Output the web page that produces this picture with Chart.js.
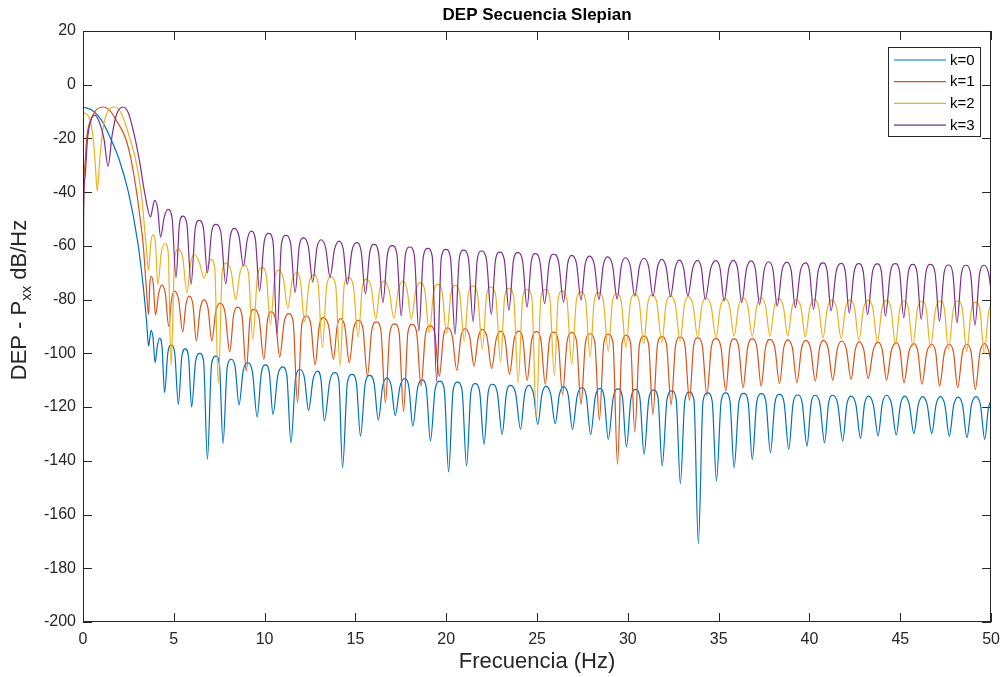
<!DOCTYPE html>
<html><head><meta charset="utf-8">
<script src="https://cdn.jsdelivr.net/npm/chart.js@4.4.1/dist/chart.umd.min.js"></script>
<style>html,body{margin:0;padding:0;background:#fff;}#wrap{width:1008px;height:677px;}</style>
</head><body><div id="wrap"><canvas id="c" width="1008" height="677"></canvas></div>
<script>
const chartTitle = 'DEP Secuencia Slepian';
const xTitle = 'Frecuencia (Hz)';
const seriesLabels = ['k=0', 'k=1', 'k=2', 'k=3'];
const seriesColors = ['#0072BD', '#D95319', '#EDB120', '#7E2F8E'];
const xTicks = [0, 5, 10, 15, 20, 25, 30, 35, 40, 45, 50];
const yTicks = [20, 0, -20, -40, -60, -80, -100, -120, -140, -160, -180, -200];

// [frequency Hz, PSD dB/Hz]
const k0Points = [[0,-8.3],[0.5,-9.5],[1,-13],[1.5,-19.7],[2,-28],[2.5,-40],[3,-58],[3.3,-74],[3.5,-88],
[3.61,-97.3],[3.68,-94.4],[3.75,-91.4],[3.86,-94.4],[3.97,-103.5],[4.09,-97.4],[4.21,-94.4],[4.35,-97.4],
[4.49,-114.6],[4.67,-99.9],[4.85,-96.9],[5.05,-99.9],[5.25,-119],[5.44,-101.3],[5.63,-98.3],[5.81,-101.3],
[5.98,-120],[6.2,-103],[6.43,-100],[6.64,-103],[6.85,-139.5],[7.08,-104],[7.31,-101],[7.51,-104],
[7.71,-133.6],[7.94,-105.2],[8.17,-102.2],[8.38,-105.2],[8.59,-119.2],[8.82,-106.5],[9.04,-103.5],[9.32,-106.5],
[9.59,-123.7],[9.82,-107.3],[10.05,-104.3],[10.26,-107.3],[10.46,-122.7],[10.73,-108],[10.99,-105],[11.22,-108],
[11.45,-133.3],[11.71,-109],[11.96,-106],[12.19,-109],[12.42,-121.2],[12.67,-109.6],[12.91,-106.6],[13.1,-109.6],
[13.29,-125.2],[13.59,-110.2],[13.88,-107.2],[14.09,-110.2],[14.29,-142.6],[14.56,-110.8],[14.82,-107.8],[15.05,-110.8],
[15.28,-130.8],[15.54,-111.2],[15.79,-108.2],[16.03,-111.2],[16.26,-124.9],[16.5,-112.1],[16.74,-109.1],[16.97,-112.1],
[17.19,-123.1],[17.45,-112.4],[17.71,-109.4],[17.94,-112.4],[18.16,-127.1],[18.42,-112.9],[18.67,-109.9],[18.9,-112.9],
[19.13,-132.6],[19.39,-113.3],[19.65,-110.3],[19.89,-113.3],[20.13,-144.1],[20.38,-113.7],[20.62,-110.7],[20.87,-113.7],
[21.12,-142],[21.36,-114.3],[21.59,-111.3],[21.84,-114.3],[22.08,-133.9],[22.31,-114.5],[22.54,-111.5],[22.81,-114.5],
[23.08,-130.2],[23.31,-114.9],[23.54,-111.9],[23.82,-114.9],[24.09,-128.3],[24.32,-114.9],[24.55,-111.9],[24.8,-114.9],
[25.04,-126.4],[25.27,-115.2],[25.49,-112.2],[25.75,-115.2],[26,-126.2],[26.23,-115.4],[26.46,-112.4],[26.71,-115.4],
[26.95,-128.3],[27.21,-115.8],[27.46,-112.8],[27.71,-115.8],[27.95,-130.2],[28.21,-116],[28.46,-113],[28.69,-116],
[28.92,-132],[29.2,-116.2],[29.47,-113.2],[29.7,-116.2],[29.92,-134.8],[30.18,-116.4],[30.43,-113.4],[30.66,-116.4],
[30.89,-137.6],[31.16,-116.7],[31.43,-113.7],[31.66,-116.7],[31.89,-141.9],[32.16,-117],[32.42,-114],[32.66,-117],
[32.89,-148.5],[33.14,-117.4],[33.39,-114.4],[33.64,-117.4],[33.88,-170.9],[34.14,-117.7],[34.39,-114.7],[34.64,-117.7],
[34.88,-147.5],[35.14,-117.7],[35.39,-114.7],[35.62,-117.7],[35.85,-142.6],[36.12,-117.9],[36.39,-114.9],[36.62,-117.9],
[36.85,-139.5],[37.1,-118],[37.36,-115],[37.6,-118],[37.85,-137],[38.1,-118.3],[38.35,-115.3],[38.6,-118.3],
[38.86,-135.7],[39.1,-118.5],[39.35,-115.5],[39.6,-118.5],[39.86,-134.5],[40.09,-118.6],[40.32,-115.6],[40.57,-118.6],
[40.83,-133.3],[41.05,-118.6],[41.28,-115.6],[41.55,-118.6],[41.83,-132.6],[42.06,-118.9],[42.29,-115.9],[42.55,-118.9],
[42.81,-131.6],[43.03,-118.9],[43.25,-115.9],[43.51,-118.9],[43.78,-130.7],[44.01,-118.6],[44.24,-115.6],[44.51,-118.6],
[44.78,-130.4],[45.01,-118.9],[45.24,-115.9],[45.49,-118.9],[45.75,-129.9],[45.99,-119.1],[46.24,-116.1],[46.48,-119.1],
[46.73,-129.9],[46.97,-119.1],[47.21,-116.1],[47.45,-119.1],[47.7,-130.8],[47.94,-119.3],[48.19,-116.3],[48.43,-119.3],
[48.67,-131.4],[48.92,-119.1],[49.18,-116.1],[49.41,-119.1],[49.65,-132],[49.85,-120.5],[50,-117.5]];

const k1Points = [[0,-200],[0.03,-45],[0.1,-30],[0.2,-20],[0.4,-13.5],[0.7,-9.6],[1.11,-8.3],[1.5,-9.8],[1.9,-14],[2.35,-20],[2.65,-28],[2.95,-40],[3.15,-50],[3.32,-60],[3.48,-75],
[3.61,-85.5],[3.68,-74.2],[3.75,-71.2],[3.87,-74.2],[3.99,-85.7],[4.17,-77.6],[4.34,-74.6],[4.53,-77.6],
[4.72,-90],[4.88,-79.8],[5.03,-76.8],[5.26,-79.8],[5.49,-92.1],[5.67,-81.7],[5.85,-78.7],[6.05,-81.7],
[6.24,-95.4],[6.46,-83.1],[6.67,-80.1],[6.88,-83.1],[7.09,-95.4],[7.31,-84.4],[7.53,-81.4],[7.81,-84.4],
[8.08,-99.5],[8.29,-85.8],[8.5,-82.8],[8.75,-85.8],[8.99,-106.6],[9.2,-86.6],[9.41,-83.6],[9.69,-86.6],
[9.96,-102.2],[10.16,-87.5],[10.36,-84.5],[10.6,-87.5],[10.83,-101.4],[11.08,-88.2],[11.32,-85.2],[11.57,-88.2],
[11.81,-118.4],[12.05,-89.1],[12.29,-86.1],[12.54,-89.1],[12.78,-104.3],[13.01,-89.7],[13.24,-86.7],[13.52,-89.7],
[13.79,-102.2],[13.99,-90.1],[14.18,-87.1],[14.42,-90.1],[14.66,-103.5],[14.9,-90.7],[15.15,-87.7],[15.41,-90.7],
[15.66,-108.4],[15.9,-91.3],[16.15,-88.3],[16.4,-91.3],[16.65,-118.4],[16.9,-92],[17.16,-89],[17.4,-92],
[17.65,-121.7],[17.89,-92.2],[18.12,-89.2],[18.37,-92.2],[18.61,-112.2],[18.86,-92.8],[19.11,-89.8],[19.37,-92.8],
[19.62,-108.5],[19.85,-93.5],[20.08,-90.5],[20.33,-93.5],[20.58,-106.3],[20.81,-93.8],[21.04,-90.8],[21.29,-93.8],
[21.53,-104.7],[21.76,-94.1],[21.99,-91.1],[22.25,-94.1],[22.5,-105.6],[22.75,-94.7],[22.99,-91.7],[23.24,-94.7],
[23.48,-107.8],[23.74,-94.7],[23.99,-91.7],[24.22,-94.7],[24.45,-110.1],[24.71,-94.9],[24.96,-91.9],[25.21,-94.9],
[25.45,-111.5],[25.68,-95.1],[25.91,-92.1],[26.16,-95.1],[26.4,-115.3],[26.66,-95.3],[26.91,-92.3],[27.17,-95.3],
[27.42,-119],[27.67,-95.7],[27.92,-92.7],[28.18,-95.7],[28.43,-124.9],[28.68,-95.9],[28.92,-92.9],[29.18,-95.9],
[29.43,-141.3],[29.68,-96.3],[29.92,-93.3],[30.15,-96.3],[30.38,-129.2],[30.64,-96.6],[30.89,-93.6],[31.14,-96.6],
[31.38,-122.7],[31.63,-96.8],[31.87,-93.8],[32.13,-96.8],[32.38,-119.2],[32.63,-96.9],[32.88,-93.9],[33.14,-96.9],
[33.39,-117.5],[33.62,-97.2],[33.84,-94.2],[34.1,-97.2],[34.35,-115.6],[34.6,-97.5],[34.85,-94.5],[35.12,-97.5],
[35.39,-114],[35.62,-97.6],[35.85,-94.6],[36.1,-97.6],[36.34,-112.8],[36.6,-97.6],[36.85,-94.6],[37.1,-97.6],
[37.34,-112.2],[37.58,-97.8],[37.82,-94.8],[38.09,-97.8],[38.35,-111.3],[38.58,-98],[38.8,-95],[39.06,-98],
[39.31,-110.9],[39.56,-98.2],[39.8,-95.2],[40.06,-98.2],[40.32,-110.3],[40.55,-98.2],[40.77,-95.2],[41.03,-98.2],
[41.28,-110],[41.53,-98.4],[41.77,-95.4],[42.03,-98.4],[42.29,-109.7],[42.52,-98.7],[42.74,-95.7],[42.99,-98.7],
[43.23,-109.4],[43.51,-98.8],[43.78,-95.8],[44.01,-98.8],[44.24,-110],[44.51,-99],[44.78,-96],[44.99,-99],
[45.2,-110.9],[45.48,-99.4],[45.75,-96.4],[45.97,-99.4],[46.19,-111.5],[46.46,-99.6],[46.73,-96.6],[46.95,-99.6],
[47.16,-112.2],[47.43,-99.6],[47.7,-96.6],[47.93,-99.6],[48.16,-112.8],[48.42,-99.6],[48.67,-96.6],[48.9,-99.6],
[49.13,-113.4],[49.39,-99.4],[49.65,-96.4],[49.88,-99.4],[50,-104]];

const k2Points = [[0,-10.4],[0.29,-11.6],[0.56,-19.7],[0.69,-31],[0.78,-39.6],[0.93,-27.2],[1.11,-16],[1.38,-9.8],[1.75,-8.3],[2.1,-10.5],[2.57,-19.7],[2.9,-28],[3.2,-40],[3.48,-60],
[3.61,-69.1],[3.73,-58.9],[3.85,-55.9],[3.99,-58.9],[4.12,-74.3],[4.32,-62.2],[4.52,-59.2],[4.69,-62.2],
[4.85,-104.7],[5.05,-64.3],[5.25,-61.3],[5.49,-64.3],[5.72,-77.4],[5.93,-66.1],[6.13,-63.1],[6.4,-66.1],
[6.67,-72],[6.86,-68],[7.04,-65],[7.25,-68],[7.45,-111.5],[7.67,-69.3],[7.89,-66.3],[8.15,-69.3],
[8.41,-80.1],[8.64,-70.1],[8.86,-67.1],[9.11,-70.1],[9.35,-94.8],[9.61,-71.1],[9.86,-68.1],[10.09,-71.1],
[10.32,-89.2],[10.55,-72.1],[10.78,-69.1],[11.03,-72.1],[11.28,-83.2],[11.51,-73],[11.74,-70],[11.97,-73],
[12.2,-88.2],[12.45,-73.8],[12.69,-70.8],[12.94,-73.8],[13.18,-97.9],[13.42,-74.6],[13.66,-71.6],[13.91,-74.6],
[14.15,-104.7],[14.38,-74.8],[14.61,-71.8],[14.88,-74.8],[15.15,-93.9],[15.38,-75.4],[15.61,-72.4],[15.87,-75.4],
[16.12,-87.3],[16.34,-76.1],[16.56,-73.1],[16.84,-76.1],[17.12,-87],[17.37,-76.1],[17.61,-73.1],[17.84,-76.1],
[18.07,-87.3],[18.32,-76.7],[18.56,-73.7],[18.82,-76.7],[19.07,-92.3],[19.3,-77.3],[19.53,-74.3],[19.78,-77.3],
[20.02,-92.7],[20.26,-77.7],[20.49,-74.7],[20.74,-77.7],[20.99,-95.4],[21.22,-77.9],[21.44,-74.9],[21.72,-77.9],
[21.99,-98.5],[22.22,-78.3],[22.44,-75.3],[22.72,-78.3],[22.99,-103.2],[23.22,-78.8],[23.45,-75.8],[23.71,-78.8],
[23.96,-110.9],[24.21,-79.2],[24.45,-76.2],[24.71,-79.2],[24.96,-124],[25.21,-79.2],[25.45,-76.2],[25.7,-79.2],
[25.95,-108.4],[26.16,-79.8],[26.37,-76.8],[26.64,-79.8],[26.91,-104.1],[27.17,-80.1],[27.42,-77.1],[27.67,-80.1],
[27.92,-101.3],[28.15,-80.4],[28.37,-77.4],[28.65,-80.4],[28.92,-99.2],[29.15,-80.8],[29.38,-77.8],[29.64,-80.8],
[29.89,-97.9],[30.14,-81],[30.38,-78],[30.63,-81],[30.87,-96.6],[31.1,-81.3],[31.33,-78.3],[31.6,-81.3],
[31.87,-96],[32.1,-81.7],[32.33,-78.7],[32.61,-81.7],[32.88,-95.4],[33.11,-82],[33.33,-79],[33.59,-82],
[33.84,-93.9],[34.07,-82.3],[34.3,-79.3],[34.58,-82.3],[34.85,-94.2],[35.1,-82.5],[35.35,-79.5],[35.6,-82.5],
[35.85,-93.6],[36.1,-82.3],[36.34,-79.3],[36.6,-82.3],[36.85,-93.6],[37.1,-82.3],[37.34,-79.3],[37.58,-82.3],
[37.82,-93.6],[38.07,-82.5],[38.31,-79.5],[38.56,-82.5],[38.8,-93.5],[39.04,-82.9],[39.28,-79.9],[39.53,-82.9],
[39.77,-93.8],[40.02,-82.9],[40.27,-79.9],[40.51,-82.9],[40.74,-94.2],[40.99,-83.1],[41.23,-80.1],[41.49,-83.1],
[41.74,-94.4],[41.99,-83.1],[42.23,-80.1],[42.48,-83.1],[42.72,-95.2],[42.98,-83.2],[43.23,-80.2],[43.49,-83.2],
[43.74,-95.8],[43.99,-83.3],[44.24,-80.3],[44.49,-83.3],[44.73,-96.6],[44.97,-83.5],[45.2,-80.5],[45.45,-83.5],
[45.69,-97.3],[45.94,-83.5],[46.19,-80.5],[46.43,-83.5],[46.66,-97.9],[46.94,-83.5],[47.21,-80.5],[47.43,-83.5],
[47.65,-98.5],[47.92,-83.5],[48.19,-80.5],[48.42,-83.5],[48.65,-99.4],[48.91,-83.9],[49.16,-80.9],[49.39,-83.9],
[49.62,-100.1],[49.86,-84.5],[50,-81.8]];

const k3Points = [[0,-200],[0.03,-50],[0.1,-35],[0.25,-20],[0.45,-13],[0.66,-11.3],[0.9,-14],[1.15,-20],[1.38,-30.3],[1.6,-19],[1.85,-11],[2.2,-8.3],[2.5,-10.5],[2.8,-18],[3.1,-28],[3.39,-40],
[3.72,-49.2],[3.83,-46],[3.94,-43],[4.11,-46],[4.27,-56.7],[4.47,-49.4],[4.67,-46.4],[4.9,-49.4],
[5.12,-71.8],[5.31,-51.9],[5.49,-48.9],[5.72,-51.9],[5.95,-74.3],[6.18,-53.5],[6.4,-50.5],[6.63,-53.5],
[6.85,-70],[7.08,-55],[7.31,-52],[7.59,-55],[7.86,-74.1],[8.11,-56.5],[8.35,-53.5],[8.59,-56.5],
[8.83,-67.5],[9.05,-57.5],[9.26,-54.5],[9.49,-57.5],[9.72,-76.8],[9.98,-58.3],[10.23,-55.3],[10.46,-58.3],
[10.68,-92.9],[10.93,-59.1],[11.17,-56.1],[11.43,-59.1],[11.68,-77.4],[11.91,-60],[12.14,-57],[12.4,-60],
[12.65,-73.4],[12.88,-60.7],[13.11,-57.7],[13.36,-60.7],[13.6,-71.6],[13.85,-61.2],[14.1,-58.2],[14.33,-61.2],
[14.55,-74.3],[14.81,-61.8],[15.06,-58.8],[15.31,-61.8],[15.55,-77.8],[15.79,-62.4],[16.03,-59.4],[16.27,-62.4],
[16.51,-81.1],[16.77,-62.9],[17.03,-59.9],[17.28,-62.9],[17.52,-86.1],[17.75,-63.4],[17.98,-60.4],[18.24,-63.4],
[18.49,-91.7],[18.74,-63.9],[18.98,-60.9],[19.23,-63.9],[19.47,-110.3],[19.73,-64.3],[19.98,-61.3],[20.23,-64.3],
[20.48,-92.9],[20.72,-64.6],[20.95,-61.6],[21.22,-64.6],[21.48,-88.2],[21.71,-64.9],[21.94,-61.9],[22.21,-64.9],
[22.48,-85.5],[22.71,-65.3],[22.94,-62.3],[23.2,-65.3],[23.45,-84],[23.7,-65.5],[23.94,-62.5],[24.2,-65.5],
[24.45,-82.8],[24.68,-65.9],[24.9,-62.9],[25.16,-65.9],[25.42,-81.5],[25.67,-66.1],[25.91,-63.1],[26.19,-66.1],
[26.46,-80.9],[26.69,-66.5],[26.91,-63.5],[27.17,-66.5],[27.42,-80.1],[27.65,-66.8],[27.88,-63.8],[28.15,-66.8],
[28.41,-79.9],[28.65,-67.1],[28.88,-64.1],[29.15,-67.1],[29.41,-79.7],[29.64,-67.4],[29.87,-64.4],[30.13,-67.4],
[30.38,-78.7],[30.64,-67.6],[30.89,-64.6],[31.14,-67.6],[31.38,-78.7],[31.63,-68],[31.87,-65],[32.11,-68],
[32.35,-78.9],[32.6,-68.3],[32.84,-65.3],[33.07,-68.3],[33.3,-78.7],[33.57,-68.4],[33.84,-65.4],[34.05,-68.4],
[34.26,-79.9],[34.56,-68.5],[34.85,-65.5],[35.08,-68.5],[35.3,-80.5],[35.56,-68.4],[35.81,-65.4],[36.04,-68.4],
[36.27,-81.1],[36.53,-68.6],[36.79,-65.6],[37.02,-68.6],[37.25,-81.8],[37.51,-68.9],[37.76,-65.9],[37.99,-68.9],
[38.22,-82.4],[38.49,-69],[38.76,-66],[38.99,-69],[39.22,-83],[39.5,-69.3],[39.77,-66.3],[40,-69.3],
[40.22,-83.6],[40.48,-69.3],[40.74,-66.3],[40.97,-69.3],[41.19,-84.2],[41.47,-69.5],[41.74,-66.5],[41.97,-69.5],
[42.19,-84.9],[42.46,-69.6],[42.72,-66.6],[42.96,-69.6],[43.2,-85.5],[43.47,-69.7],[43.74,-66.7],[43.96,-69.7],
[44.18,-86.1],[44.46,-69.6],[44.73,-66.6],[44.96,-69.6],[45.19,-86.7],[45.44,-69.9],[45.69,-66.9],[45.92,-69.9],
[46.15,-87.3],[46.41,-69.9],[46.66,-66.9],[46.91,-69.9],[47.16,-88],[47.41,-70.1],[47.65,-67.1],[47.89,-70.1],
[48.12,-88.6],[48.37,-70.2],[48.62,-67.2],[48.87,-70.2],[49.11,-89.5],[49.37,-70.2],[49.62,-67.2],[49.86,-70.2],
[50,-76.8]];

const seriesPoints = [k0Points, k1Points, k2Points, k3Points];
const AXIS_COLOR = '#262626';
const FONT = '"Liberation Sans", Arial, Helvetica, sans-serif';

const matlabAxes = {
  id: 'matlabAxes',
  beforeDatasetsDraw(chart) {
    const {ctx, chartArea: a, scales} = chart;
    ctx.save();
    ctx.strokeStyle = AXIS_COLOR;
    ctx.lineWidth = 1;
    ctx.beginPath();
    const L = 9;
    xTicks.forEach(v => {
      const px = Math.round(scales.x.getPixelForValue(v)) + 0.5;
      ctx.moveTo(px, a.bottom); ctx.lineTo(px, a.bottom - L);
      ctx.moveTo(px, a.top); ctx.lineTo(px, a.top + L);
    });
    yTicks.forEach(v => {
      const py = Math.round(scales.y.getPixelForValue(v)) + 0.5;
      ctx.moveTo(a.left, py); ctx.lineTo(a.left + L, py);
      ctx.moveTo(a.right, py); ctx.lineTo(a.right - L, py);
    });
    ctx.stroke();
    ctx.restore();
  },
  afterDraw(chart) {
    const {ctx, chartArea: a} = chart;
    ctx.save();
    ctx.strokeStyle = AXIS_COLOR;
    ctx.lineWidth = 1;
    ctx.strokeRect(Math.round(a.left) + 0.5, Math.round(a.top) + 0.5,
                   Math.round(a.right - a.left) - 1, Math.round(a.bottom - a.top) - 1);
    ctx.fillStyle = '#000';
    ctx.font = 'bold 17px ' + FONT;
    ctx.textAlign = 'center';
    ctx.textBaseline = 'middle';
    ctx.fillText(chartTitle, (a.left + a.right) / 2, 15);
    const mainFont = '22px ' + FONT, subFont = '15px ' + FONT;
    const parts = [['DEP - P', mainFont, 0], ['xx', subFont, 7], [' dB/Hz', mainFont, 0]];
    let total = 0;
    parts.forEach(p => { ctx.font = p[1]; total += ctx.measureText(p[0]).width; });
    ctx.translate(20, 300);
    ctx.rotate(-Math.PI / 2);
    ctx.textAlign = 'left';
    ctx.textBaseline = 'middle';
    ctx.fillStyle = AXIS_COLOR;
    let x = -total / 2;
    parts.forEach(p => { ctx.font = p[1]; ctx.fillText(p[0], x, p[2]); x += ctx.measureText(p[0]).width; });
    ctx.restore();
    ctx.save();
    const bx = 888.5, by = 47.5, bw = 92, bh = 89;
    ctx.fillStyle = '#fff';
    ctx.fillRect(bx, by, bw, bh);
    ctx.strokeStyle = AXIS_COLOR;
    ctx.lineWidth = 1;
    ctx.strokeRect(bx, by, bw, bh);
    ctx.font = '15px ' + FONT;
    ctx.textAlign = 'left';
    ctx.textBaseline = 'middle';
    chart.data.datasets.forEach((ds, i) => {
      const yy = 60 + i * 21.7;
      ctx.strokeStyle = ds.borderColor;
      ctx.lineWidth = 1.2;
      ctx.beginPath(); ctx.moveTo(894, yy); ctx.lineTo(946, yy); ctx.stroke();
      ctx.fillStyle = '#000';
      ctx.fillText(ds.label, 950, yy + 0.5);
    });
    ctx.restore();
  }
};

new Chart(document.getElementById('c'), {
  type: 'line',
  data: {
    datasets: seriesPoints.map((pts, i) => ({
      label: seriesLabels[i],
      data: pts.map(p => ({x: p[0], y: p[1]})),
      borderColor: seriesColors[i],
      backgroundColor: seriesColors[i],
      borderWidth: 1.2,
      pointRadius: 0,
      fill: false,
      cubicInterpolationMode: 'monotone',
      order: 3 - i
    }))
  },
  options: {
    responsive: false,
    animation: false,
    devicePixelRatio: 1,
    layout: {padding: {left: 0, right: 10, top: 31, bottom: 0}},
    plugins: {legend: {display: false}, tooltip: {enabled: false}, title: {display: false}},
    scales: {
      x: {
        type: 'linear', min: 0, max: 50,
        afterBuildTicks: s => { s.ticks = xTicks.map(v => ({value: v})); },
        afterFit: s => { s.height = 55; },
        grid: {display: false, drawTicks: false},
        border: {display: false},
        ticks: {color: AXIS_COLOR, font: {family: FONT, size: 16}, padding: 8, maxRotation: 0},
        title: {display: true, text: xTitle, color: AXIS_COLOR, font: {family: FONT, size: 22}, padding: {top: 0, bottom: 2}}
      },
      y: {
        type: 'linear', min: -200, max: 20,
        afterBuildTicks: s => { s.ticks = yTicks.map(v => ({value: v})); },
        afterFit: s => { s.width = 83; },
        grid: {display: false, drawTicks: false},
        border: {display: false},
        ticks: {color: AXIS_COLOR, font: {family: FONT, size: 16}, padding: 7}
      }
    }
  },
  plugins: [matlabAxes]
});
</script>
</body></html>
